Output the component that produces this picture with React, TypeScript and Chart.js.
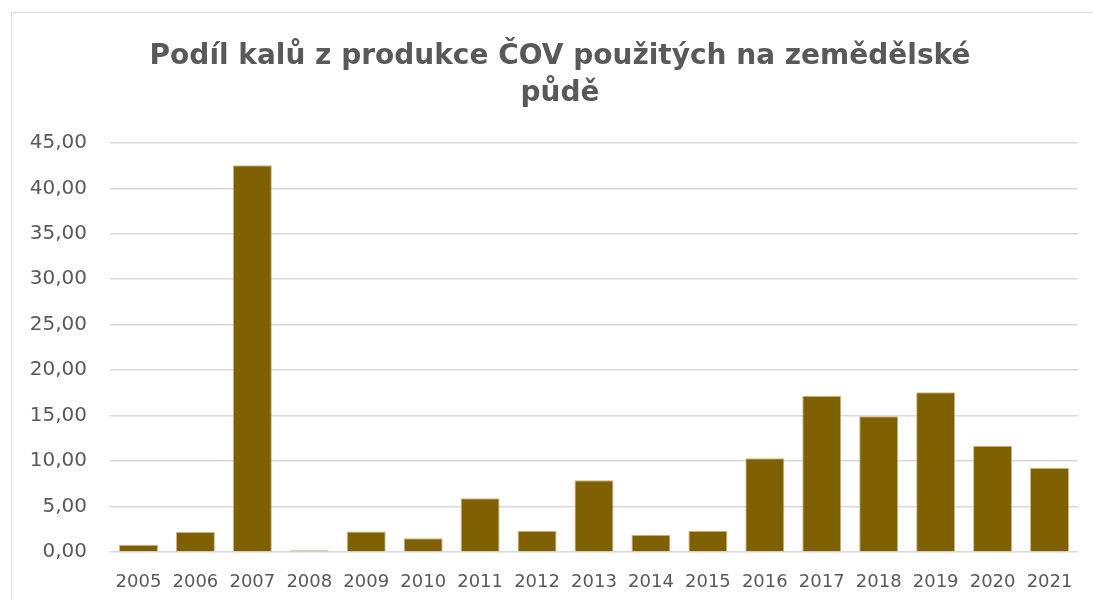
import React, { useEffect, useRef } from "react";
import { Chart, registerables } from "chart.js";

Chart.register(...registerables);

const titleLines = ["Podíl kalů z produkce ČOV použitých na zemědělské", "půdě"];
const years = ["2005", "2006", "2007", "2008", "2009", "2010", "2011", "2012", "2013", "2014", "2015", "2016", "2017", "2018", "2019", "2020", "2021"];
const shares = [0.8, 2.2, 42.55, 0.2, 2.25, 1.5, 5.9, 2.35, 7.9, 1.9, 2.35, 10.3, 17.2, 14.93, 17.57, 11.7, 9.27];
const yMin = 0;
const yMax = 45;
const yStep = 5;

const TEXT = "#595959";
const GRID = "#d9d9d9";
const BAR = "#7f6000";

// Centre the title over the whole chart frame (which extends past the right edge of the picture)
const titleCentre = {
  id: "titleCentre",
  beforeDraw(chart: any) {
    const t = chart.titleBlock;
    if (t) {
      t.left = 12;
      t.right = 1108;
    }
  },
};

export default function App() {
  const ref = useRef<HTMLCanvasElement | null>(null);

  useEffect(() => {
    if (!ref.current) return;
    const chart = new Chart(ref.current, {
      type: "bar",
      data: {
        labels: years,
        datasets: [
          {
            data: shares,
            backgroundColor: BAR,
            borderColor: "#c9b889",
            borderWidth: 1,
            categoryPercentage: 1,
            barPercentage: 0.685,
          },
        ],
      },
      plugins: [titleCentre],
      options: {
        animation: false,
        responsive: false,
        maintainAspectRatio: false,
        layout: { padding: { left: 10, right: 15, top: 0, bottom: 0 } },
        plugins: {
          legend: { display: false },
          tooltip: { enabled: false },
          title: {
            display: true,
            text: titleLines,
            color: TEXT,
            font: { family: "DejaVu Sans", size: 28, weight: "bold", lineHeight: 1.32 },
            padding: { top: 38, bottom: 31 },
          },
        },
        scales: {
          x: {
            grid: { display: false, drawTicks: false },
            border: { display: false },
            ticks: {
              color: TEXT,
              font: { family: "DejaVu Sans", size: 18 },
              padding: 20,
              maxRotation: 0,
              autoSkip: false,
            },
            afterFit: (s: any) => {
              s.height = 48;
            },
          },
          y: {
            min: yMin,
            max: yMax,
            grid: { color: GRID, lineWidth: 1.6, drawTicks: false },
            border: { display: false },
            ticks: {
              stepSize: yStep,
              color: TEXT,
              font: { family: "DejaVu Sans", size: 20 },
              padding: 23,
              callback: (v: any) => Number(v).toFixed(2).replace(".", ","),
            },
            afterFit: (s: any) => {
              s.width = 100;
            },
          },
        },
      },
    });
    return () => chart.destroy();
  }, []);

  return (
    <div style={{ position: "absolute", left: 0, top: 0, width: 1093, height: 600, overflow: "hidden", background: "#fff" }}>
      <div style={{ position: "absolute", left: 11, top: 12, width: 1082, height: 1, background: GRID }} />
      <div style={{ position: "absolute", left: 11, top: 12, width: 1, height: 588, background: GRID }} />
      <canvas ref={ref} width={1093} height={600} style={{ position: "absolute", left: 0, top: 0, width: 1093, height: 600 }} />
    </div>
  );
}
